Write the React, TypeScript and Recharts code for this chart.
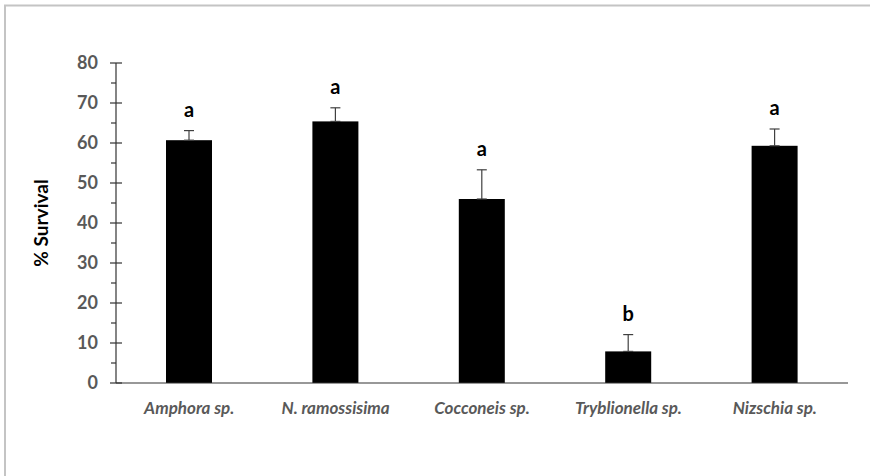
import React from 'react';
import { BarChart, Bar, XAxis, YAxis, ErrorBar } from 'recharts';

// Survival (%) per diatom species, mean ± SE, with significance letters.
const species = ['Amphora sp.', 'N. ramossisima', 'Cocconeis sp.', 'Tryblionella sp.', 'Nizschia sp.'];
const survival = [60.7, 65.4, 46.0, 7.9, 59.3];
const stdErr = [2.4, 3.4, 7.3, 4.2, 4.2];
const letters = ['a', 'a', 'a', 'b', 'a'];
const yTicks = [0, 5, 10, 15, 20, 25, 30, 35, 40, 45, 50, 55, 60, 65, 70, 75, 80];

const data = species.map((name, i) => ({
  name,
  survival: survival[i],
  se: stdErr[i],
  seRange: [0, stdErr[i]],
  letter: letters[i],
}));

const FONT = 'Lato, "Open Sans", sans-serif';
const AXIS = '#333333';
const GREY_TEXT = '#595959';

function YTick(props: any) {
  const { x, y, payload } = props;
  const major = payload.value % 10 === 0;
  return (
    <g>
      <line x1={major ? x - 6 : x - 5} x2={major ? x + 6 : x} y1={y} y2={y} stroke={AXIS} strokeWidth={1.2} />
      {major && (
        <text x={x - 18} y={y} dy="0.36em" textAnchor="end" fill={GREY_TEXT} fontFamily={FONT} fontWeight={700} fontSize={18}>
          {payload.value}
        </text>
      )}
    </g>
  );
}

function XTick(props: any) {
  const { x, y, payload } = props;
  return (
    <text x={x} y={y + 31} textAnchor="middle" fill={GREY_TEXT} fontFamily={FONT} fontWeight={700} fontStyle="italic" fontSize={17}>
      {payload.value}
    </text>
  );
}

function AxisTitle(props: any) {
  const { viewBox } = props;
  const cx = 40;
  const cy = viewBox.y + viewBox.height / 2;
  return (
    <text
      x={cx}
      y={cy}
      transform={`rotate(-90 ${cx} ${cy})`}
      textAnchor="middle"
      dominantBaseline="central"
      fill="#000"
      fontFamily={FONT}
      fontWeight={700}
      fontSize={19}
    >
      % Survival
    </text>
  );
}

// Black bar plus its significance letter above the error cap.
function LetterBar(props: any) {
  const { x, y, width, height, payload } = props;
  const perUnit = payload.survival > 0 ? height / payload.survival : 0;
  const capY = y - payload.se * perUnit;
  return (
    <g>
      <rect x={x} y={y} width={width} height={height} fill="#000" />
      <text x={x + width / 2} y={capY - 14} textAnchor="middle" fill="#000" fontFamily={FONT} fontWeight={700} fontSize={20}>
        {payload.letter}
      </text>
    </g>
  );
}

export default function App() {
  return (
    <div style={{ position: 'fixed', left: 0, top: 0, width: 870, height: 476, overflow: 'hidden', background: '#fff' }}>
      <div style={{ position: 'absolute', left: 0, top: 0 }}>
        <BarChart width={870} height={476} data={data} margin={{ top: 63, right: 22, bottom: 53, left: 0 }}>
          <XAxis
            dataKey="name"
            height={40}
            axisLine={{ stroke: AXIS, strokeWidth: 1.2 }}
            tickLine={false}
            tickSize={0}
            tickMargin={0}
            tick={<XTick />}
            interval={0}
          />
          <YAxis
            width={116}
            domain={[0, 80]}
            ticks={yTicks}
            interval={0}
            axisLine={{ stroke: AXIS, strokeWidth: 1.2 }}
            tickLine={false}
            tickSize={0}
            tickMargin={0}
            tick={<YTick />}
            label={<AxisTitle />}
          />
          <Bar dataKey="survival" barSize={46} isAnimationActive={false} shape={<LetterBar />}>
            <ErrorBar dataKey="seRange" direction="y" width={5} stroke="#404040" strokeWidth={1.2} isAnimationActive={false} />
          </Bar>
        </BarChart>
      </div>
      {/* chart-area frame, open at right and bottom */}
      <svg width={870} height={476} style={{ position: 'absolute', left: 0, top: 0, pointerEvents: 'none' }}>
        <path d="M5 476 V5.5 H870" fill="none" stroke="#c4c4c4" strokeWidth={2} />
      </svg>
    </div>
  );
}
